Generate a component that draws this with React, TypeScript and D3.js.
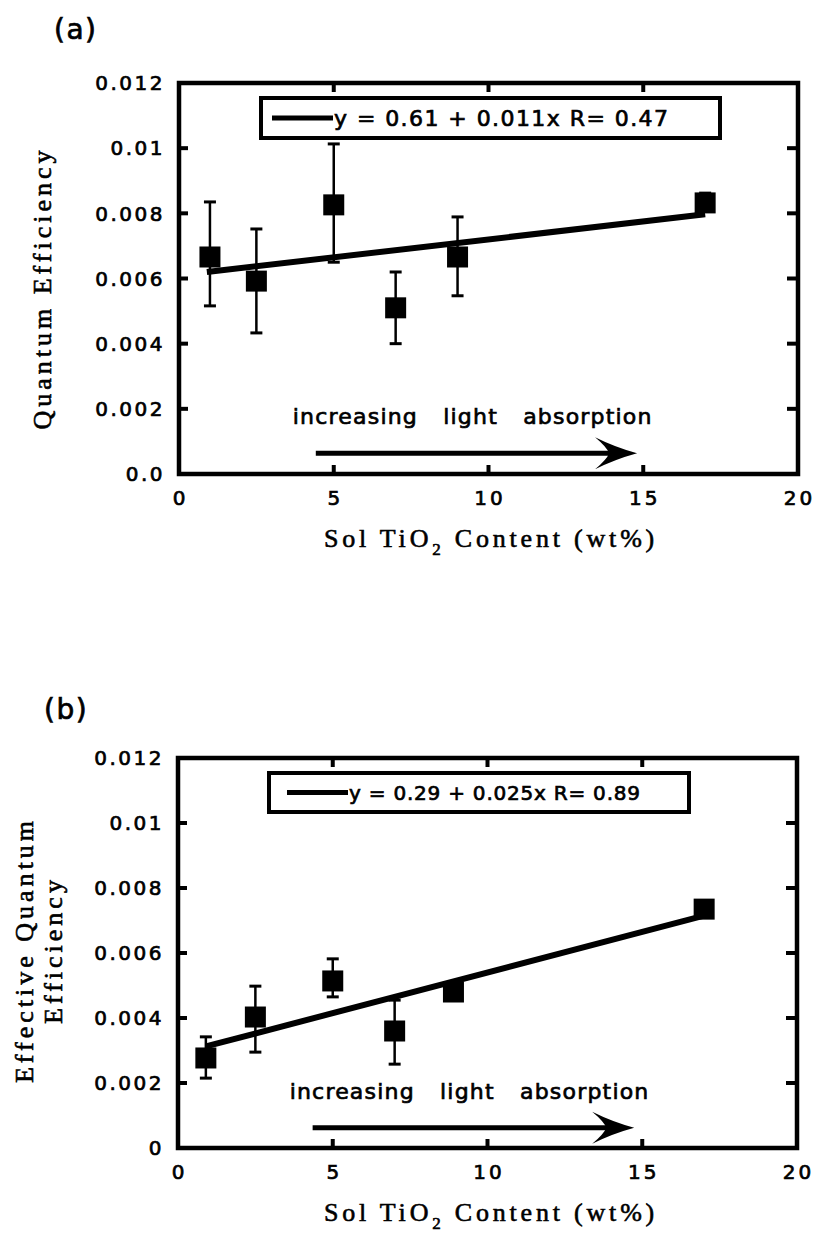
import React from 'react';
import * as d3 from 'd3';

// ---------- data ----------
const xA = [1, 2.5, 5, 7, 9, 17];
const qeA = [0.00666, 0.00592, 0.00826, 0.0051, 0.00666, 0.00832];
const qeAHigh = [0.00835, 0.00752, 0.01013, 0.0062, 0.00789, 0.00862];
const qeALow = [0.00516, 0.00433, 0.0065, 0.004, 0.00547, 0.0081];

const xB = [0.9, 2.5, 5, 7, 8.9, 17];
const eqeB = [0.00277, 0.00403, 0.00514, 0.0036, 0.0048, 0.00735];
const eqeBHigh = [0.00342, 0.00498, 0.00582, 0.00455, 0.0049, 0.0074];
const eqeBLow = [0.00215, 0.00295, 0.00465, 0.00258, 0.0047, 0.0073];

// linear fits (intercept, slope) in absolute units, and their x extent
const fitA = [0.0061, 0.00011];
const fitB = [0.0029, 0.00025];
const fitRangeA = [0.9, 17];
const fitRangeB = [0.9, 17];

const legendA = 'y = 0.61 + 0.011x R= 0.47';
const legendB = 'y = 0.29 + 0.025x R= 0.89';

const X_TICKS = [0, 5, 10, 15, 20];
const X_TICK_LABELS = ['0', '5', '10', '15', '20'];
const Y_TICKS = [0, 0.002, 0.004, 0.006, 0.008, 0.01, 0.012];
const Y_TICK_LABELS_A = ['0.0', '0.002', '0.004', '0.006', '0.008', '0.01', '0.012'];
const Y_TICK_LABELS_B = ['0', '0.002', '0.004', '0.006', '0.008', '0.01', '0.012'];

// arrow annotation (data coords): [xStart, xTip, y]
const arrowA = [4.42, 14.8, 0.00064];
const arrowB = [4.35, 14.74, 0.00062];

const SANS = '"DejaVu Sans", Verdana, sans-serif';
const SERIF = '"Liberation Serif", "Times New Roman", serif';
const SW_SANS = 0.7;
const SW_SERIF = 0.6;

type PanelProps = {
  label: string;
  labelPos: [number, number];
  xr: [number, number];
  yr: [number, number];
  xs: number[];
  ys: number[];
  hi: number[];
  lo: number[];
  fit: number[];
  fitRange: number[];
  yLabels: string[];
  yTitle: string[];
  yTitleX: number[];
  yTitleCY: number;
  xTitleY: number;
  legend: { x0: number; x1: number; y0: number; y1: number; lx0: number; lx1: number; text: string; fs: number; tlen: number };
  arrow: number[];
};

function Panel(p: PanelProps) {
  const x = d3.scaleLinear().domain([0, 20]).range(p.xr);
  const y = d3.scaleLinear().domain([0, 0.012]).range(p.yr);
  const [X0, X1] = p.xr;
  const [Y0, Y1] = p.yr; // Y0 bottom, Y1 top
  const line = d3.line<number>().x((d) => x(d)).y((d) => y(p.fit[0] + p.fit[1] * d));
  const sq = 21;
  const tl = 9;
  const [ax0, ax1, ay] = p.arrow;
  const axs = x(ax0), axt = x(ax1), ayy = y(ay);
  const ly = (p.legend.y0 + p.legend.y1) / 2;
  const sansStroke = { stroke: '#000', strokeWidth: SW_SANS };
  return (
    <g>
      <text x={p.labelPos[0]} y={p.labelPos[1]} fontFamily={SANS} fontSize={28} letterSpacing={1.5} {...sansStroke}>{p.label}</text>
      {/* frame */}
      <rect x={X0} y={Y1} width={X1 - X0} height={Y0 - Y1} fill="none" stroke="#000" strokeWidth={4.5} />
      {/* ticks */}
      {Y_TICKS.slice(1, -1).map((t) => (
        <g key={'yt' + t}>
          <line x1={X0} x2={X0 + tl} y1={y(t)} y2={y(t)} stroke="#000" strokeWidth={4} />
          <line x1={X1} x2={X1 - tl - 2} y1={y(t)} y2={y(t)} stroke="#000" strokeWidth={4} />
        </g>
      ))}
      {X_TICKS.slice(1, -1).map((t) => (
        <g key={'xt' + t}>
          <line x1={x(t)} x2={x(t)} y1={Y0} y2={Y0 - tl} stroke="#000" strokeWidth={4} />
          <line x1={x(t)} x2={x(t)} y1={Y1} y2={Y1 + tl} stroke="#000" strokeWidth={4} />
        </g>
      ))}
      {/* tick labels */}
      {Y_TICKS.map((t, i) => (
        <text key={'yl' + t} x={X0 - 14} y={y(t)} dy="0.36em" textAnchor="end" fontFamily={SANS} fontSize={20} letterSpacing={2.5} {...sansStroke}>
          {p.yLabels[i]}
        </text>
      ))}
      {X_TICKS.map((t, i) => (
        <text key={'xl' + t} x={x(t) + 1.5} y={Y0 + 24} dy="0.36em" textAnchor="middle" fontFamily={SANS} fontSize={20} letterSpacing={3} {...sansStroke}>
          {X_TICK_LABELS[i]}
        </text>
      ))}
      {/* legend */}
      <rect x={p.legend.x0} y={p.legend.y0} width={p.legend.x1 - p.legend.x0} height={p.legend.y1 - p.legend.y0} fill="#fff" stroke="#000" strokeWidth={4} />
      <line x1={p.legend.lx0} x2={p.legend.lx1} y1={ly} y2={ly} stroke="#000" strokeWidth={5} />
      <text x={p.legend.lx1 + 1} y={ly} dy="0.36em" fontFamily={SANS} fontSize={p.legend.fs} textLength={p.legend.tlen} lengthAdjust="spacing" {...sansStroke}>
        {p.legend.text}
      </text>
      {/* error bars */}
      {p.xs.map((v, i) => (
        <g key={'eb' + i}>
          <line x1={x(v)} x2={x(v)} y1={y(p.lo[i])} y2={y(p.hi[i])} stroke="#000" strokeWidth={2.5} />
          <line x1={x(v) - 6} x2={x(v) + 6} y1={y(p.lo[i])} y2={y(p.lo[i])} stroke="#000" strokeWidth={3} />
          <line x1={x(v) - 6} x2={x(v) + 6} y1={y(p.hi[i])} y2={y(p.hi[i])} stroke="#000" strokeWidth={3} />
        </g>
      ))}
      {/* fit line */}
      <path d={line(p.fitRange) || ''} fill="none" stroke="#000" strokeWidth={6} />
      {/* points */}
      {p.xs.map((v, i) => (
        <rect key={'pt' + i} x={x(v) - sq / 2} y={y(p.ys[i]) - sq / 2} width={sq} height={sq} fill="#000" />
      ))}
      {/* annotation */}
      <text x={axs - 23} y={ayy - 29} fontFamily={SANS} fontSize={22} letterSpacing={1.2} wordSpacing={17} {...sansStroke}>
        increasing light absorption
      </text>
      <line x1={axs} x2={axt - 20} y1={ayy} y2={ayy} stroke="#000" strokeWidth={5} />
      <path
        d={`M${axt},${ayy} Q${axt - 22},${ayy - 6} ${axt - 42},${ayy - 16} Q${axt - 30},${ayy - 6} ${axt - 28},${ayy} Q${axt - 30},${ayy + 6} ${axt - 42},${ayy + 16} Q${axt - 22},${ayy + 6} ${axt},${ayy} Z`}
        fill="#000"
      />
      {/* axis titles */}
      <text x={491} y={p.xTitleY} textAnchor="middle" fontFamily={SERIF} fontSize={26} letterSpacing={3.8} stroke="#000" strokeWidth={SW_SERIF}>
        <tspan>Sol TiO</tspan>
        <tspan dy={8} fontSize={17}>2</tspan>
        <tspan dy={-8}> Content (wt%)</tspan>
      </text>
      {p.yTitle.map((t, i) => (
        <text key={'yt' + i} transform={`translate(${p.yTitleX[i]},${p.yTitleCY}) rotate(-90)`} textAnchor="middle" fontFamily={SERIF} fontSize={26} letterSpacing={4} stroke="#000" strokeWidth={SW_SERIF}>
          {t}
        </text>
      ))}
    </g>
  );
}

export default function App() {
  return (
    <svg width={815} height={1237} style={{ position: 'absolute', left: 0, top: 0, background: '#fff' }}>
      <rect x={0} y={0} width={815} height={1237} fill="#fff" />
      <Panel
        label="(a)"
        labelPos={[54, 39]}
        xr={[179, 798]}
        yr={[474, 83]}
        xs={xA}
        ys={qeA}
        hi={qeAHigh}
        lo={qeALow}
        fit={fitA}
        fitRange={fitRangeA}
        yLabels={Y_TICK_LABELS_A}
        yTitle={['Quantum Efficiency']}
        yTitleX={[51]}
        yTitleCY={288}
        xTitleY={547}
        legend={{ x0: 261, x1: 720, y0: 98, y1: 138, lx0: 272, lx1: 333, text: legendA, fs: 22, tlen: 334 }}
        arrow={arrowA}
      />
      <Panel
        label="(b)"
        labelPos={[44, 719]}
        xr={[178, 797]}
        yr={[1148, 758]}
        xs={xB}
        ys={eqeB}
        hi={eqeBHigh}
        lo={eqeBLow}
        fit={fitB}
        fitRange={fitRangeB}
        yLabels={Y_TICK_LABELS_B}
        yTitle={['Effective Quantum', 'Efficiency']}
        yTitleX={[33, 62]}
        yTitleCY={950}
        xTitleY={1221}
        legend={{ x0: 269, x1: 689, y0: 773, y1: 812, lx0: 287, lx1: 348, text: legendB, fs: 20, tlen: 291 }}
        arrow={arrowB}
      />
    </svg>
  );
}
